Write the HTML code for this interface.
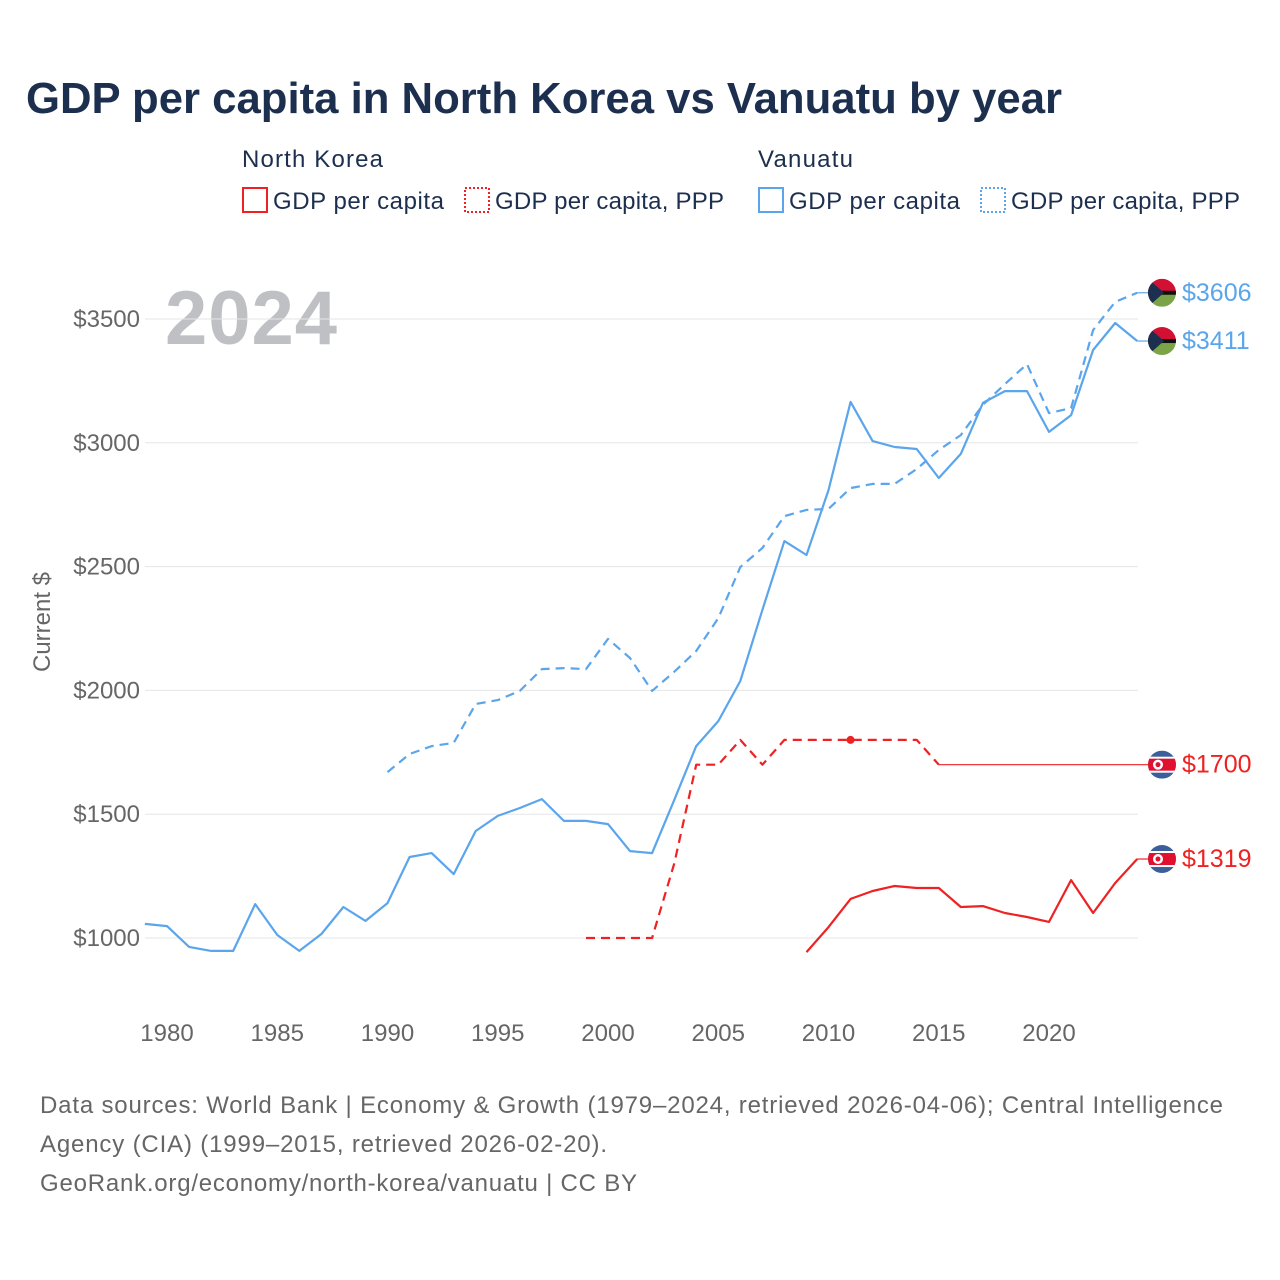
<!DOCTYPE html>
<html><head><meta charset="utf-8"><style>
body{margin:0;width:1280px;height:1280px;background:#fff;font-family:"Liberation Sans",sans-serif;overflow:hidden}
svg{position:absolute;left:0;top:0}
</style></head><body>
<svg id="chart" width="1280" height="1280" xmlns="http://www.w3.org/2000/svg">
<text x="26" y="113" font-size="44" font-weight="bold" fill="#1c2f4f" textLength="1036" lengthAdjust="spacingAndGlyphs">GDP per capita in North Korea vs Vanuatu by year</text>
<g font-size="24" fill="#1c2f4f">
<text x="242" y="167" textLength="141">North Korea</text>
<rect x="243" y="188" width="24" height="24" fill="none" stroke="#ee2222" stroke-width="2"/>
<text x="273" y="209" textLength="171">GDP per capita</text>
<rect x="465" y="188" width="24" height="24" fill="none" stroke="#ee2222" stroke-width="2" stroke-dasharray="2 2"/>
<text x="495" y="209" textLength="229">GDP per capita, PPP</text>
<text x="758" y="167" textLength="95">Vanuatu</text>
<rect x="759" y="188" width="24" height="24" fill="none" stroke="#5aa5ec" stroke-width="2"/>
<text x="789" y="209" textLength="171">GDP per capita</text>
<rect x="981" y="188" width="24" height="24" fill="none" stroke="#5aa5ec" stroke-width="2" stroke-dasharray="2 2"/>
<text x="1011" y="209" textLength="229">GDP per capita, PPP</text>
</g>
<text x="165" y="344" font-size="76" font-weight="bold" fill="#bfc0c4" textLength="172">2024</text>
<text transform="translate(50,622) rotate(-90)" text-anchor="middle" font-size="24" fill="#666">Current $</text>
<g id="grid"></g><g id="series"></g><g id="ends"></g>
<g font-size="24" fill="#666">
<text x="40" y="1113" textLength="1183">Data sources: World Bank | Economy &amp; Growth (1979–2024, retrieved 2026-04-06); Central Intelligence</text>
<text x="40" y="1152" textLength="567">Agency (CIA) (1999–2015, retrieved 2026-02-20).</text>
<text x="40" y="1191" textLength="597">GeoRank.org/economy/north-korea/vanuatu | CC BY</text>
</g>
</svg>
<script>
const yTicks=[1000,1500,2000,2500,3000,3500];
const xTicks=[1980,1985,1990,1995,2000,2005,2010,2015,2020];
const vuGdpYears=[1979,1980,1981,1982,1983,1984,1985,1986,1987,1988,1989,1990,1991,1992,1993,1994,1995,1996,1997,1998,1999,2000,2001,2002,2003,2004,2005,2006,2007,2008,2009,2010,2011,2012,2013,2014,2015,2016,2017,2018,2019,2020,2021,2022,2023,2024];
const vuGdp=[1057,1048,964,948,948,1137,1012,948,1016,1125,1069,1141,1327,1343,1258,1432,1493,1525,1561,1473,1473,1460,1351,1343,1557,1775,1876,2038,2325,2603,2547,2809,3165,3007,2983,2975,2858,2955,3161,3209,3209,3044,3112,3375,3484,3411];
const vuPppYears=[1990,1991,1992,1993,1994,1995,1996,1997,1998,1999,2000,2001,2002,2003,2004,2005,2006,2007,2008,2009,2010,2011,2012,2013,2014,2015,2016,2017,2018,2019,2020,2021,2022,2023,2024];
const vuPpp=[1670,1743,1775,1788,1945,1961,1998,2086,2090,2086,2208,2131,1998,2075,2159,2292,2498,2575,2704,2729,2733,2817,2834,2834,2894,2971,3031,3153,3237,3318,3120,3140,3455,3569,3606];
const nkPppYears=[1999,2000,2001,2002,2003,2004,2005,2006,2007,2008,2009,2010,2011,2012,2013,2014,2015];
const nkPpp=[1000,1000,1000,1000,1300,1700,1700,1800,1700,1800,1800,1800,1800,1800,1800,1800,1700];
const nkGdpYears=[2009,2010,2011,2012,2013,2014,2015,2016,2017,2018,2019,2020,2021,2022,2023,2024];
const nkGdp=[943,1044,1158,1190,1210,1202,1202,1125,1129,1101,1085,1065,1234,1101,1222,1319];

const NS='http://www.w3.org/2000/svg';
const X=yr=>167+(yr-1980)*22.05;
const Y=v=>938-(v-1000)*0.2476;
function mk(t,a,p){const e=document.createElementNS(NS,t);for(const k in a)e.setAttribute(k,a[k]);p.appendChild(e);return e;}
const grid=document.getElementById('grid');
yTicks.forEach(v=>{
 const l=mk('line',{x1:145,x2:1138,y1:Y(v),y2:Y(v),stroke:'#e6e6e6','stroke-width':1},grid);
 
 
 const t=mk('text',{x:140,y:Y(v)+8,'text-anchor':'end','font-size':24,fill:'#666'},grid);
 
 
 t.textContent='$'+v;
});
xTicks.forEach(yr=>{
 const t=mk('text',{x:X(yr),y:1041,'text-anchor':'middle','font-size':24,fill:'#666'},grid);
 
 
 t.textContent=yr;
});
const ser=document.getElementById('series');
function line(years,vals,color,dash,name){
 const d=years.map((y,i)=>(i?'L':'M')+X(y).toFixed(1)+','+Y(vals[i]).toFixed(1)).join('');
 const p=mk('path',{d:d,fill:'none',stroke:color,'stroke-width':2.2,'stroke-linejoin':'round'},ser);
 if(dash)p.setAttribute('stroke-dasharray','9 6');
 
 
}
const BL='#5aa5ec',RD='#ee2222';
line(vuPppYears,vuPpp,BL,true,'vanuatu-ppp-line');
line(vuGdpYears,vuGdp,BL,false,'vanuatu-gdp-line');
line(nkPppYears,nkPpp,RD,true,'north-korea-ppp-line');
line(nkGdpYears,nkGdp,RD,false,'north-korea-gdp-line');
const dot=mk('circle',{cx:X(2011),cy:Y(nkPpp[nkPppYears.indexOf(2011)]),r:4,fill:RD},ser);


const ends=document.getElementById('ends');
function endLabel(years,vals,color,flag,name,connectY){
 const v=vals[vals.length-1], y=Y(v), x0=X(years[years.length-1]);
 const ly=connectY!==undefined?Y(connectY):y;
 const c=mk('line',{x1:x0,y1:ly,x2:1150,y2:ly,stroke:color,'stroke-width':1.2},ends);
 
 
 const g=mk('g',{transform:`translate(1162,${ly})`},ends);
 
 
 mk('clipPath',{id:'c'+name},g).appendChild(document.createElementNS(NS,'circle')).setAttribute('r',14);
 const inner=mk('g',{'clip-path':`url(#c${name})`},g);
 if(flag==='vu'){
  mk('rect',{x:-14,y:-14,width:28,height:14,fill:'#d21034'},inner);
  mk('rect',{x:-14,y:0,width:28,height:14,fill:'#7aa445'},inner);
  mk('rect',{x:-14,y:-2,width:28,height:4,fill:'#111'},inner);
  mk('polygon',{points:'-14,-14 2,0 -14,14',fill:'#1c2f4f'},inner);
 }else{
  mk('rect',{x:-14,y:-14,width:28,height:28,fill:'#3a5f9a'},inner);
  mk('rect',{x:-14,y:-8,width:28,height:16,fill:'#fff'},inner);
  mk('rect',{x:-14,y:-6,width:28,height:12,fill:'#e01030'},inner);
  mk('circle',{cx:-4,cy:0,r:5,fill:'#fff'},inner);
  mk('circle',{cx:-4,cy:0,r:2.5,fill:'#e01030'},inner);
 }
 const t=mk('text',{x:1182,y:ly+8,'font-size':25,fill:color},ends);
 
 
 t.textContent='$'+(connectY!==undefined?connectY:v);
}
endLabel(vuPppYears,vuPpp,BL,'vu','vanuatu-ppp');
endLabel(vuGdpYears,vuGdp,BL,'vu','vanuatu-gdp');
endLabel(nkPppYears,nkPpp,RD,'nk','north-korea-ppp',nkPpp[nkPpp.length-1]);
endLabel(nkGdpYears,nkGdp,RD,'nk','north-korea-gdp');
</script>
</body></html>
